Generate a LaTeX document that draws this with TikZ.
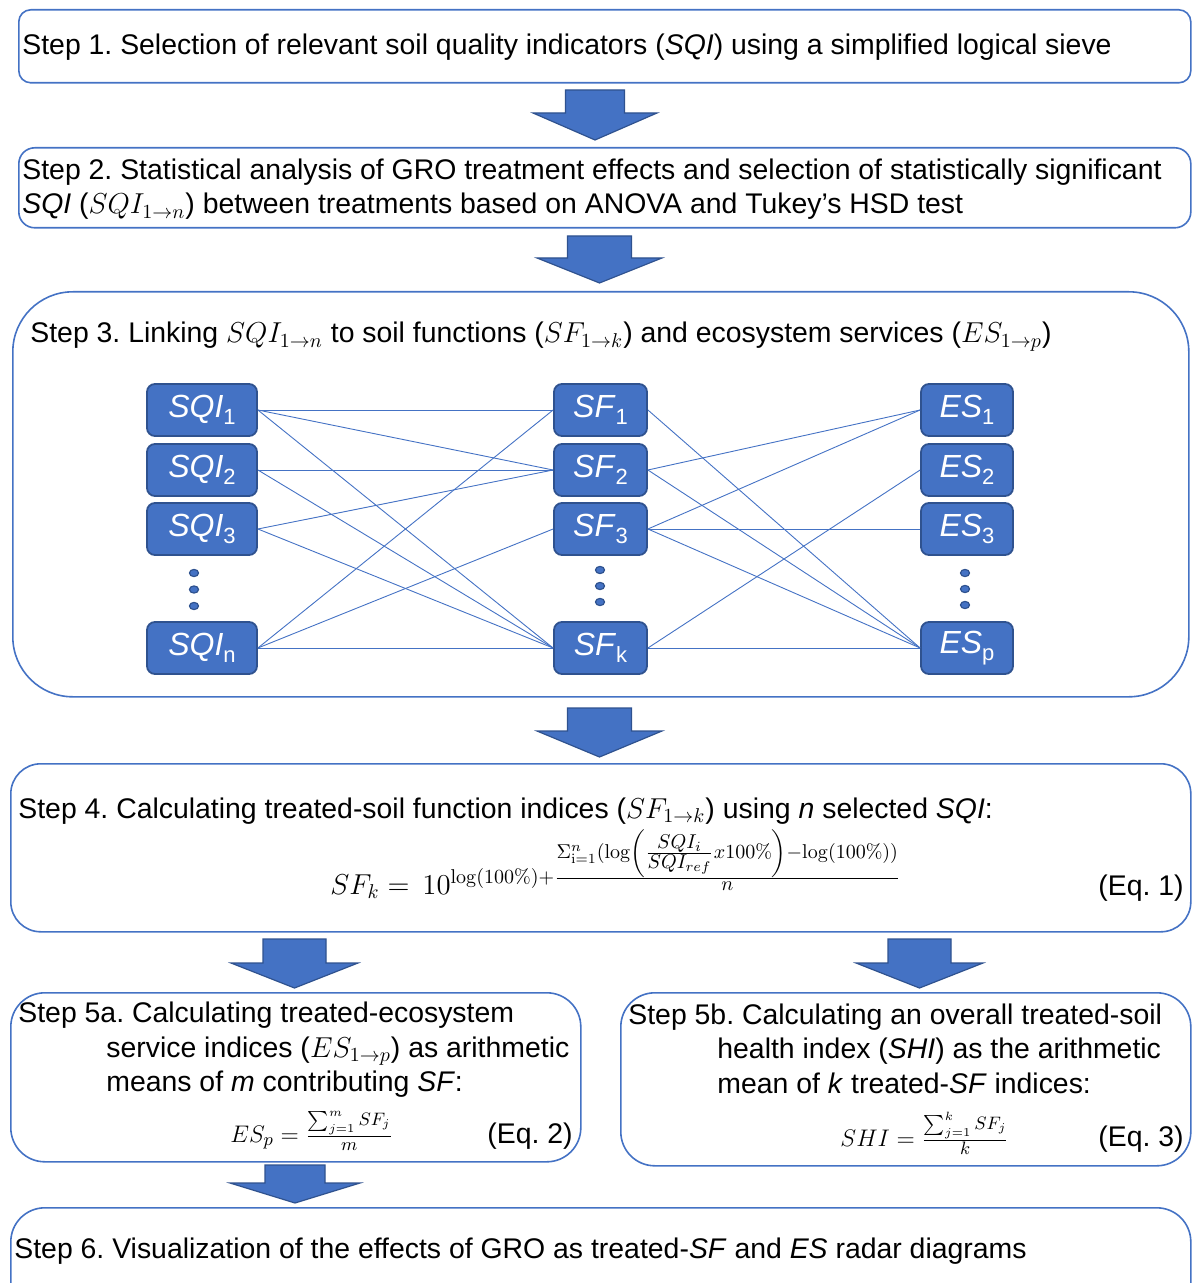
\documentclass[tikz,border=0pt]{standalone}
\usepackage[no-math]{fontspec}
\setmainfont{Liberation Sans}
\usetikzlibrary{shapes.geometric}
\definecolor{boxblue}{HTML}{4472C4}
\definecolor{darkblue}{HTML}{2F528F}
\newcommand\idx[2]{\textit{#1}\raisebox{-0.45ex}{\fontsize{11}{11}\selectfont #2}}
\newcommand\blockarr[6]{%
  \draw[barrow] ({#1-#2},#4) -- ({#1+#2},#4) -- ({#1+#2},#5) -- ({#1+#3},#5)
    -- (#1,#6) -- ({#1-#3},#5) -- ({#1-#2},#5) -- cycle;}
\frenchspacing
\begin{document}
\begin{tikzpicture}[x=0.5pt,y=-0.5pt,
  stepbox/.style={draw=boxblue, line width=0.8pt, anchor=north west, inner sep=0pt},
  txt/.style={anchor=base west, inner sep=0pt, font=\fontsize{14.2}{17}\selectfont},
  eqn/.style={anchor=base west, inner sep=0pt, font=\fontsize{13}{15}\selectfont},
  ind/.style={fill=boxblue, draw=darkblue, line width=0.9pt, rounded corners=4pt,
    text=white, font=\fontsize{16}{18}\selectfont, minimum height=26pt, inner sep=0pt},
  sqi/.style={ind, minimum width=55pt},
  sfn/.style={ind, minimum width=46.5pt},
  esn/.style={ind, minimum width=46pt},
  link/.style={draw=boxblue, line width=0.45pt},
  vdot/.style={ellipse, fill=boxblue, draw=darkblue, line width=0.6pt,
    minimum width=4.5pt, minimum height=3.6pt, inner sep=0pt},
  barrow/.style={fill=boxblue, draw=darkblue, line width=0.6pt, line join=miter}
]
\useasboundingbox (0,0) rectangle (1192,1283);
\clip (0,0) rectangle (1192,1283);

% ---------- Step 1 ----------
\node[stepbox, rounded corners=6pt, minimum width=586pt, minimum height=36.5pt] (s1) at (18,9) {};
\node[txt] (t1) at (22,55) {Step 1. Selection of relevant soil quality indicators (\textit{SQI}) using a simplified logical sieve};
\blockarr{595}{29.5}{62}{90}{113}{140}

% ---------- Step 2 ----------
\node[stepbox, rounded corners=8pt, minimum width=586pt, minimum height=40pt] (s2) at (18,147) {};
\node[txt] (t2a) at (22,180) {Step 2. Statistical analysis of GRO treatment effects and selection of statistically significant};
\node[txt] (t2b) at (22,214) {\textit{SQI} ($SQI_{1\rightarrow n}$) between treatments based on ANOVA and Tukey’s HSD test};
\blockarr{599.5}{32}{62.5}{236}{258}{283}

% ---------- Step 3 ----------
\node[stepbox, rounded corners=30pt, minimum width=588pt, minimum height=202.5pt] (s3) at (12,291) {};
\node[txt] (t3) at (30,343) {Step 3. Linking $SQI_{1\rightarrow n}$ to soil functions ($SF_{1\rightarrow k}$) and ecosystem services ($ES_{1\rightarrow p}$)};

\node[sqi] (q1) at (202,410) {\idx{SQI}{1}};
\node[sqi] (q2) at (202,470) {\idx{SQI}{2}};
\node[sqi] (q3) at (202,529) {\idx{SQI}{3}};
\node[sqi] (qn) at (202,648) {\idx{SQI}{n}};
\node[sfn] (f1) at (600.5,410) {\idx{SF}{1}};
\node[sfn] (f2) at (600.5,470) {\idx{SF}{2}};
\node[sfn] (f3) at (600.5,529) {\idx{SF}{3}};
\node[sfn] (fk) at (600.5,648) {\idx{SF}{k}};
\node[esn] (e1) at (967,410) {\idx{ES}{1}};
\node[esn] (e2) at (967,470) {\idx{ES}{2}};
\node[esn] (e3) at (967,529) {\idx{ES}{3}};
\node[esn] (ep) at (967,648) {\idx{ES}{p}};

\node[vdot] (qd1) at (194,573) {};
\node[vdot] (qd2) at (194,589.5) {};
\node[vdot] (qd3) at (194,606) {};
\node[vdot] (fd1) at (600,570) {};
\node[vdot] (fd2) at (600,586) {};
\node[vdot] (fd3) at (600,602) {};
\node[vdot] (ed1) at (965,573) {};
\node[vdot] (ed2) at (965,589) {};
\node[vdot] (ed3) at (965,605) {};

\draw[link] (q1.east) -- (f1.west);
\draw[link] (q1.east) -- (f2.west);
\draw[link] (q1.east) -- (fk.west);
\draw[link] (q2.east) -- (f2.west);
\draw[link] (q2.east) -- (fk.west);
\draw[link] (q3.east) -- (f2.west);
\draw[link] (q3.east) -- (fk.west);
\draw[link] (qn.east) -- (f1.west);
\draw[link] (qn.east) -- (f3.west);
\draw[link] (qn.east) -- (fk.west);

\draw[link] (f1.east) -- (ep.west);
\draw[link] (f2.east) -- (e1.west);
\draw[link] (f2.east) -- (ep.west);
\draw[link] (f3.east) -- (e1.west);
\draw[link] (f3.east) -- (e3.west);
\draw[link] (f3.east) -- (ep.west);
\draw[link] (fk.east) -- (e2.west);
\draw[link] (fk.east) -- (ep.west);

\blockarr{599.5}{32}{62.5}{708}{731}{757}

% ---------- Step 4 ----------
\node[stepbox, rounded corners=15pt, minimum width=590pt, minimum height=84pt] (s4) at (10,763) {};
\node[txt] (t4) at (18,818) {Step 4. Calculating treated-soil function indices ($SF_{1\rightarrow k}$) using \textit{n} selected \textit{SQI}:};
\node[eqn, font=\fontsize{14}{16}\selectfont] (eq1) at (330,894)
 {$SF_k = \,10^{\log(100\%)+\frac{\scriptstyle \Sigma_{\mathrm{i}=1}^{n}(\log\left(\frac{\scriptstyle SQI_i}{\scriptstyle SQI_{ref}}x100\%\right)-\log(100\%))}{\scriptstyle n}}$};
\node[txt] (q1lab) at (1098,895) {(Eq. 1)};

\blockarr{294.5}{31.5}{63.5}{939}{963}{988}
\blockarr{919.5}{31.5}{63.5}{939}{963}{988}

% ---------- Step 5a ----------
\node[stepbox, rounded corners=17pt, minimum width=285pt, minimum height=84.5pt] (s5a) at (10,992) {};
\node[txt] (t5a1) at (18,1022) {Step 5a. Calculating treated-ecosystem};
\node[txt] (t5a2) at (106,1057) {service indices ($ES_{1\rightarrow p}$) as arithmetic};
\node[txt] (t5a3) at (106,1091) {means of \textit{m} contributing \textit{SF}:};
\node[eqn] (eq2) at (230,1142) {$ES_p=\frac{\sum_{j=1}^{m}SF_j}{m}$};
\node[txt] (q2lab) at (487,1143) {(Eq. 2)};

% ---------- Step 5b ----------
\node[stepbox, rounded corners=17pt, minimum width=285pt, minimum height=86.5pt] (s5b) at (620,992) {};
\node[txt] (t5b1) at (628,1024) {Step 5b. Calculating an overall treated-soil};
\node[txt] (t5b2) at (717,1058) {health index (\textit{SHI}) as the arithmetic};
\node[txt] (t5b3) at (717,1093) {mean of \textit{k} treated-\textit{SF} indices:};
\node[eqn] (eq3) at (840,1146) {$SHI=\frac{\sum_{j=1}^{k}SF_j}{k}$};
\node[txt] (q3lab) at (1098,1146) {(Eq. 3)};

\blockarr{295}{30}{65}{1165}{1183}{1203}

% ---------- Step 6 ----------
\node[stepbox, rounded corners=17pt, minimum width=590pt, minimum height=60pt] (s6) at (10,1207) {};
\node[txt] (t6) at (14,1258) {Step 6. Visualization of the effects of GRO as treated-\textit{SF} and \textit{ES} radar diagrams};
\end{tikzpicture}
\end{document}
